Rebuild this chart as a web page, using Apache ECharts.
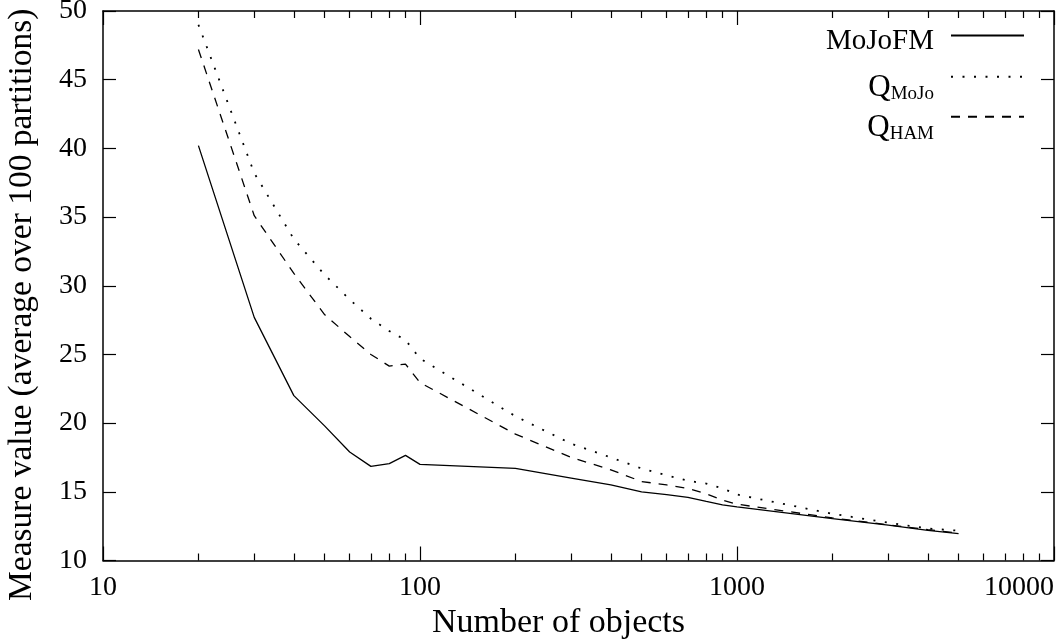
<!DOCTYPE html>
<html>
<head>
<meta charset="utf-8">
<script src="https://cdn.jsdelivr.net/npm/echarts@6/dist/echarts.min.js"></script>
<style>
html,body{margin:0;padding:0;background:#fff;}
#chart{width:1058px;height:642px;}
</style>
</head>
<body>
<div id="chart"></div>
<script>
const xValues = [20,30,40,50,60,70,80,90,100,200,300,400,500,600,700,800,900,1000,2000,3000,4000,5000];
const mojofm = [40.2,27.7,22.0,19.8,17.9,16.85,17.05,17.65,17.0,16.7,16.0,15.5,15.0,14.8,14.6,14.3,14.05,13.9,13.05,12.58,12.2,11.95];
const qmojo = [49.0,38.2,33.4,30.8,29.0,27.6,26.7,26.05,24.7,20.5,18.5,17.5,16.7,16.2,15.8,15.6,15.25,14.8,13.4,12.75,12.33,12.17];
const qham = [47.2,35.1,30.9,27.9,26.3,25.0,24.15,24.3,22.95,19.2,17.5,16.6,15.75,15.5,15.25,14.85,14.4,14.1,13.1,12.6,12.25,12.0];
const xMinorTicks = [20,30,40,50,60,70,80,90,200,300,400,500,600,700,800,900,2000,3000,4000,5000,6000,7000,8000,9000];
const seriesNames = ['MoJoFM','Q_MoJo','Q_HAM'];

const FONT = 'Liberation Serif';
const chart = echarts.init(document.getElementById('chart'), null, {renderer:'canvas'});

function pairs(ys){ return xValues.map((x,i)=>[x, ys[i]]); }

const axisLine = {show:true, lineStyle:{color:'#000', width:1.5}};
const tickStyle = {color:'#000', width:1.2};

function majorX(pos, showLabel){
  return {
    type:'log', logBase:10, min:10, max:10000, position:pos,
    axisLine: axisLine, splitLine:{show:false}, minorTick:{show:false},
    axisTick:{show:true, inside:true, length:14, lineStyle:tickStyle},
    axisLabel:{show:showLabel, color:'#000', fontFamily:FONT, fontSize:28, margin:13,
      formatter: v => String(Math.round(v)), alignMaxLabel:'right', showMinLabel:true, showMaxLabel:true}
  };
}
// tick-only axis in log10 space (decade units) for the minor ticks of the log axis
function minorX(pos){
  return {
    type:'value', min:1, max:4, position:pos,
    axisLine:{show:false}, splitLine:{show:false}, axisLabel:{show:false},
    axisTick:{show:true, inside:true, length:7, lineStyle:tickStyle,
      customValues: xMinorTicks.map(v => Math.log10(v))}
  };
}
const xAxes = [
  Object.assign(majorX('bottom', true), {name:'Number of objects', nameLocation:'middle', nameGap:30,
    nameTextStyle:{color:'#000', fontFamily:FONT, fontSize:34, padding:[0,40,0,0]}}),
  minorX('bottom'),
  majorX('top', false),
  minorX('top')
];

function yAxisBase(pos, showLabel){
  return {
    type:'value', min:10, max:50, interval:5, position:pos,
    axisLine: axisLine, splitLine:{show:false},
    axisTick:{show:true, inside:true, length:13, lineStyle:tickStyle},
    axisLabel:{show:showLabel, color:'#000', fontFamily:FONT, fontSize:28, margin:16}
  };
}
const yAxes = [
  Object.assign(yAxisBase('left', true), {name:'Measure value (average over 100 partitions)', nameLocation:'middle', nameGap:64,
    nameRotate:90, nameTextStyle:{color:'#000', fontFamily:FONT, fontSize:33.5, padding:[0,38,0,0]}}),
  yAxisBase('right', false)
];

const lineStyles = [
  {color:'#000', width:1.3, type:'solid'},
  {color:'#000', width:1.8, type:[2,9.5], cap:'butt'},
  {color:'#000', width:1.3, type:[9,8]}
];
const dataSets = [mojofm, qmojo, qham];

const series = seriesNames.map((n,i)=>({
  name:n, type:'line', xAxisIndex:0, yAxisIndex:0,
  data: pairs(dataSets[i]), symbol:'none', showSymbol:false,
  lineStyle: lineStyles[i], itemStyle:{color:'#000'}, z: 3-i,
  animation:false
}));

const rich = {
  n:{fontFamily:FONT, fontSize:29, color:'#000', lineHeight:32},
  q:{fontFamily:FONT, fontSize:31, color:'#000', lineHeight:34, verticalAlign:'bottom'},
  s:{fontFamily:FONT, fontSize:19, color:'#000', lineHeight:18, verticalAlign:'bottom'}
};
function fmt(name){
  if (name === 'MoJoFM') return '{n|MoJoFM}';
  return '{q|Q}{s|' + name.split('_')[1] + '}';
}
const legendTops = [27, 72, 112];
const textPads = [[12,12,0,0],[20,12,0,0],[20,12,0,0]];
const legends = seriesNames.map((n,i)=>({
  data:[n], orient:'vertical', right:33, top:legendTops[i], align:'right', padding:0,
  itemWidth:73, itemHeight:12, selectedMode:false,
  itemStyle:{opacity:0},
  formatter: fmt, textStyle:{rich: rich, padding: textPads[i], fontFamily:FONT, fontSize:29, color:'#000'}
}));

chart.setOption({
  backgroundColor:'#fff',
  animation:false,
  grid:{left:103, right:4, top:11, bottom:81.5, containLabel:false, outerBoundsMode:'none'},
  xAxis: xAxes,
  yAxis: yAxes,
  legend: legends,
  series: series
});
</script>
</body>
</html>
